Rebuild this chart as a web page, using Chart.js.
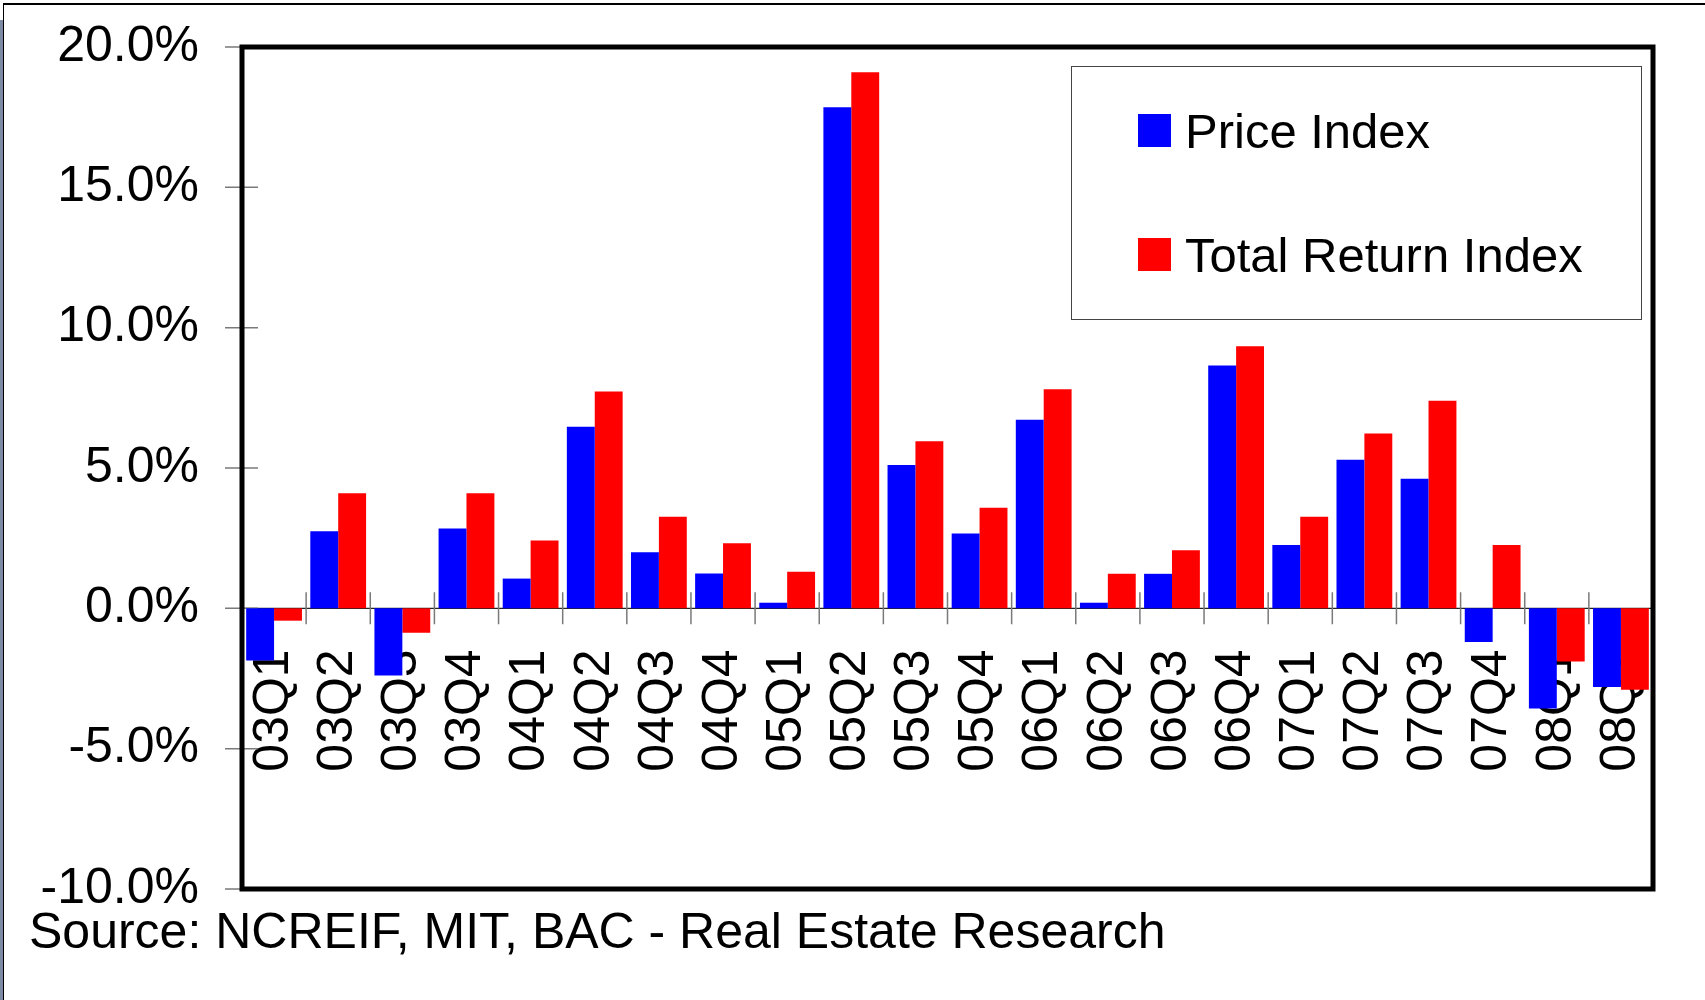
<!DOCTYPE html>
<html>
<head>
<meta charset="utf-8">
<title>Price Index vs Total Return Index</title>
<script src="https://cdn.jsdelivr.net/npm/chart.js@4.4.0/dist/chart.umd.min.js"></script>
<style>
  html, body { margin: 0; padding: 0; background: #fff; }
  #wrap { position: relative; width: 1705px; height: 1000px; overflow: hidden; }
  #strip { position: absolute; left: 0; top: 20px; width: 3px; bottom: 0; background: #7d8aa3; }
  #frame { position: absolute; left: 3px; top: 3px; right: -5px; bottom: -5px; border-top: 2px solid #000; border-left: 1px solid #000; }
  #chartBox { position: absolute; left: 0; top: 0; width: 1705px; height: 1000px; }
</style>
</head>
<body>
<div id="wrap">
  <div id="strip"></div>
  <div id="frame"></div>
  <div id="chartBox"><canvas id="returnsChart"></canvas></div>
</div>
<script>
// quarters on the category axis
const quarters = ['03Q1', '03Q2', '03Q3', '03Q4', '04Q1', '04Q2', '04Q3', '04Q4',
  '05Q1', '05Q2', '05Q3', '05Q4', '06Q1', '06Q2', '06Q3', '06Q4',
  '07Q1', '07Q2', '07Q3', '07Q4', '08Q1', '08Q2'];

// quarterly change, in percent
const priceIndex = [-1.86, 2.75, -2.39, 2.84, 1.06, 6.47, 2.0, 1.24,
  0.2, 17.85, 5.11, 2.67, 6.72, 0.2, 1.23, 8.65,
  2.26, 5.29, 4.62, -1.2, -3.57, -2.8];
const totalReturnIndex = [-0.44, 4.1, -0.87, 4.1, 2.42, 7.73, 3.26, 2.32,
  1.3, 19.1, 5.95, 3.58, 7.81, 1.23, 2.07, 9.34,
  3.26, 6.23, 7.4, 2.26, -1.89, -2.9];

// y axis
const yTicks = [-10, -5, 0, 5, 10, 15, 20];
const sourceNote = 'Source: NCREIF, MIT, BAC - Real Estate Research';

const FONT = '"Liberation Sans", Arial, Helvetica, sans-serif';
Chart.defaults.font.family = FONT;
Chart.defaults.color = '#000';

// tick marks crossing the axes + zero line (drawn under the bars)
const axisMarks = {
  id: 'axisMarks',
  beforeDatasetsDraw(chart) {
    const { ctx, chartArea, scales: { x, y } } = chart;
    const y0 = y.getPixelForValue(0);
    ctx.save();
    ctx.strokeStyle = '#222';
    ctx.lineWidth = 1.2;
    ctx.beginPath();
    ctx.moveTo(chartArea.left, y0);
    ctx.lineTo(chartArea.right, y0);
    ctx.stroke();

    ctx.strokeStyle = '#7a7a7a';
    ctx.lineWidth = 1.5;
    ctx.beginPath();
    for (let i = 0; i < quarters.length - 1; i++) {
      const px = (x.getPixelForValue(i) + x.getPixelForValue(i + 1)) / 2;
      ctx.moveTo(px, y0 - 16);
      ctx.lineTo(px, y0 + 16);
    }
    yTicks.forEach(v => {
      const py = y.getPixelForValue(v);
      ctx.moveTo(chartArea.left - 17, py);
      ctx.lineTo(chartArea.left + 16, py);
    });
    ctx.stroke();
    ctx.restore();
  },
  afterDraw(chart) {
    const { ctx, chartArea } = chart;
    ctx.save();
    // plot frame
    ctx.strokeStyle = '#000';
    ctx.lineWidth = 5;
    ctx.strokeRect(chartArea.left, chartArea.top,
      chartArea.right - chartArea.left, chartArea.bottom - chartArea.top);

    // legend box
    ctx.lineWidth = 1;
    ctx.strokeStyle = '#444';
    ctx.strokeRect(1071.5, 66.5, 570, 253);
    ctx.font = '49px ' + FONT;
    ctx.textBaseline = 'alphabetic';
    ctx.textAlign = 'left';
    chart.data.datasets.forEach((ds, i) => {
      const top = 114 + i * 124;
      ctx.fillStyle = ds.backgroundColor;
      ctx.fillRect(1138, top, 33, 33);
      ctx.fillStyle = '#000';
      ctx.fillText(ds.label, 1185, top + 34);
    });

    // source line
    ctx.font = '50px ' + FONT;
    ctx.fillText(sourceNote, 29, 948);
    ctx.restore();
  }
};

function init() {
  const ctx = document.getElementById('returnsChart').getContext('2d');
  new Chart(ctx, {
    type: 'bar',
    data: {
      labels: quarters,
      datasets: [
        { label: 'Price Index', data: priceIndex, backgroundColor: '#0000ff', borderWidth: 0 },
        { label: 'Total Return Index', data: totalReturnIndex, backgroundColor: '#ff0000', borderWidth: 0 }
      ]
    },
    options: {
      responsive: true,
      maintainAspectRatio: false,
      animation: false,
      devicePixelRatio: 1,
      layout: { padding: { left: 0, top: 47, right: 52, bottom: 111 } },
      datasets: { bar: { categoryPercentage: 0.87, barPercentage: 1.0 } },
      plugins: {
        legend: { display: false },
        tooltip: { enabled: false }
      },
      scales: {
        x: {
          type: 'category',
          position: { y: 0 },
          offset: true,
          z: 1, // labels over the bars, like the original
          grid: { display: false, drawTicks: false },
          border: { display: false },
          afterFit(scale) {
            scale.paddingLeft = 0;
            scale.paddingRight = 0;
            scale.paddingTop = 0;
            scale.paddingBottom = 0;
          },
          ticks: {
            autoSkip: false,
            minRotation: 90,
            maxRotation: 90,
            padding: 41,
            color: '#000',
            font: { size: 50 }
          }
        },
        y: {
          min: -10,
          max: 20,
          grid: { display: false, drawTicks: false },
          border: { display: false },
          afterFit(scale) {
            scale.width = 242;
            scale.paddingTop = 0;
            scale.paddingBottom = 0;
          },
          ticks: {
            stepSize: 5,
            padding: 43,
            color: '#000',
            font: { size: 50 },
            callback: v => v.toFixed(1) + '%'
          }
        }
      }
    },
    plugins: [axisMarks]
  });
}

document.addEventListener('DOMContentLoaded', init);
</script>
</body>
</html>
